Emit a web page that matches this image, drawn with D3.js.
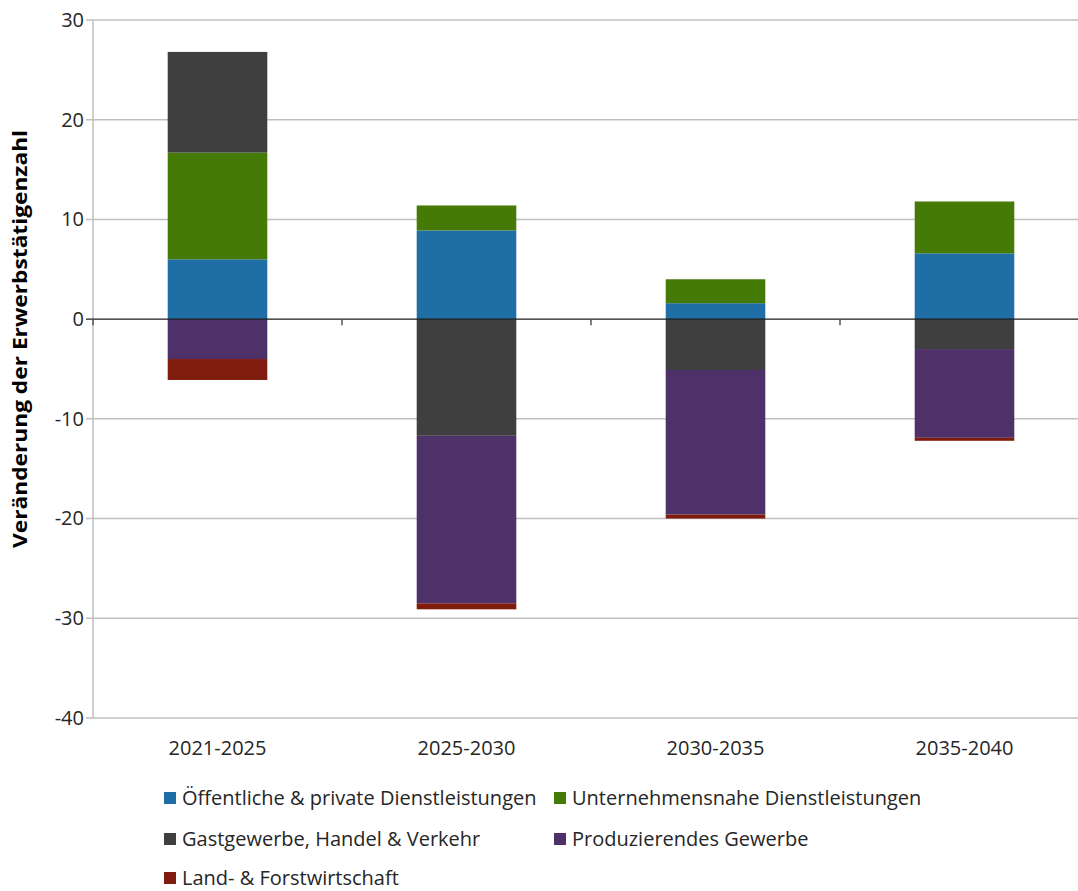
<!DOCTYPE html>
<html><head><meta charset="utf-8">
<script src="https://cdn.jsdelivr.net/npm/d3@7"></script>
<style>body{margin:0;background:#fff}svg{display:block;font-family:"Open Sans",sans-serif}</style>
</head><body><svg id="c" width="1078" height="891"></svg>
<script>
const categories = ["2021-2025","2025-2030","2030-2035","2035-2040"];
const seriesNames = ["Öffentliche & private Dienstleistungen","Unternehmensnahe Dienstleistungen","Gastgewerbe, Handel & Verkehr","Produzierendes Gewerbe","Land- & Forstwirtschaft"];
const seriesColors = ["#1F6FA6","#467A06","#3F3F3F","#4F3169","#7F1C0E"];
const oeffentliche = [6.0, 8.9, 1.6, 6.6];
const unternehmensnahe = [10.7, 2.5, 2.4, 5.2];
const gastgewerbe = [10.1, -11.7, -5.1, -3.0];
const produzierendes = [-4.0, -16.8, -14.5, -8.9];
const landForst = [-2.1, -0.6, -0.4, -0.3];
const yTicks = [30,20,10,0,-10,-20,-30,-40];
const yTitle = "Veränderung der Erwerbstätigenzahl";

(function(){
const series = [oeffentliche, unternehmensnahe, gastgewerbe, produzierendes, landForst];
const svg = d3.select("#c");
const pL = 93, pR = 1089, pT = 20, pB = 718;
const x = d3.scaleBand().domain(categories).range([pL, pR]).paddingInner(0).paddingOuter(0);
const y = d3.scaleLinear().domain([-40, 30]).range([pB, pT]);

// grid
svg.append("g").selectAll("line").data(yTicks.filter(d => d !== 0)).join("line")
  .attr("x1", pL - 7).attr("x2", 1078).attr("y1", d => y(d)).attr("y2", d => y(d))
  .attr("stroke", "#bfbfbf").attr("stroke-width", 1.5);
// y axis line
svg.append("line").attr("x1", pL).attr("x2", pL).attr("y1", pT).attr("y2", pB)
  .attr("stroke", "#bfbfbf").attr("stroke-width", 1.5);

// y axis labels
const yAxis = d3.axisLeft(y).tickValues(yTicks).tickSize(0).tickPadding(8).tickFormat(d => String(d));
const ya = svg.append("g").attr("transform", `translate(${pL - 1},0)`).call(yAxis);
ya.select(".domain").remove();
ya.selectAll("text").attr("font-size", 20).attr("fill", "#262626").attr("font-family", "Open Sans, sans-serif");

// bars
const bw = x.bandwidth() * 0.4;
categories.forEach((c, i) => {
  let pos = 0, neg = 0;
  series.forEach((s, k) => {
    const v = s[i];
    let y0, y1;
    if (v >= 0) { y0 = pos; y1 = pos + v; pos = y1; }
    else { y0 = neg; y1 = neg + v; neg = y1; }
    svg.append("rect")
      .attr("x", x(c) + (x.bandwidth() - bw) / 2)
      .attr("width", bw)
      .attr("y", y(Math.max(y0, y1)))
      .attr("height", Math.abs(y(y0) - y(y1)))
      .attr("fill", seriesColors[k]);
  });
});

// zero line
svg.append("line").attr("x1", pL - 7).attr("x2", 1078).attr("y1", y(0)).attr("y2", y(0))
  .attr("stroke", "#1a1a1a").attr("stroke-width", 1.2);
// category ticks
svg.append("g").selectAll("line").data(categories.slice(1)).join("line")
  .attr("x1", d => x(d)).attr("x2", d => x(d)).attr("y1", y(0)).attr("y2", y(0) + 6)
  .attr("stroke", "#555").attr("stroke-width", 1.5);
svg.append("line").attr("x1", pL).attr("x2", pL).attr("y1", y(0)).attr("y2", y(0) + 6)
  .attr("stroke", "#555").attr("stroke-width", 1.5);

// x labels
const xAxis = d3.axisBottom(x).tickSize(0);
const xa = svg.append("g").attr("transform", `translate(0,${pB})`).call(xAxis);
xa.select(".domain").remove();
xa.selectAll("text").attr("font-size", 20).attr("fill", "#262626").attr("dy", 0).attr("y", 37)
  .attr("font-family", "Open Sans, sans-serif");

// y title
svg.append("text").attr("transform", "translate(27,339) rotate(-90)")
  .attr("text-anchor", "middle").attr("font-size", 20).attr("font-weight", "bold")
  .attr("textLength", 418).attr("lengthAdjust", "spacingAndGlyphs")
  .attr("fill", "#000").text(yTitle);

// legend
const legPos = [[164,798],[554,798],[164,839],[554,839],[164,878]];
seriesNames.forEach((n, k) => {
  const [lx, ly] = legPos[k];
  svg.append("rect").attr("x", lx).attr("y", ly - 6).attr("width", 12).attr("height", 12).attr("fill", seriesColors[k]);
  svg.append("text").attr("x", lx + 18).attr("y", ly).attr("dy", "0.35em")
    .attr("font-size", 20).attr("fill", "#262626").text(n);
});
})();
</script></body></html>
